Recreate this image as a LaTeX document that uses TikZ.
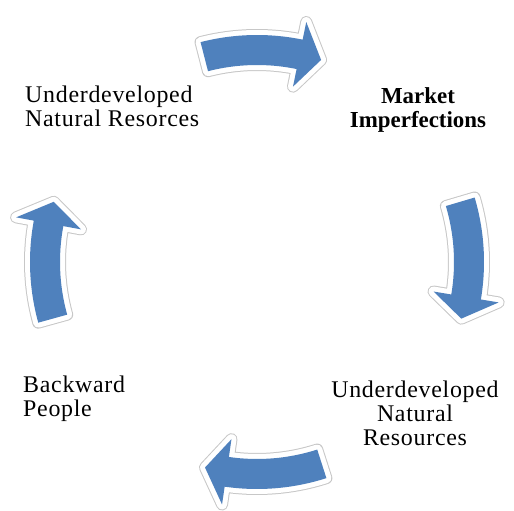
\documentclass[tikz,border=0pt]{standalone}
\usepackage{fontspec}
\setmainfont{Liberation Serif}

\definecolor{cycleblue}{HTML}{4F81BD}

\tikzset{
  cyclearrow/.style={
    preaction={draw=black!22, line width=12bp, line join=round},
    preaction={draw=white, line width=10bp, line join=round},
    fill=cycleblue},
  cycletext/.style={font=\fontsize{24}{24.5}\selectfont\addfontfeature{LetterSpace=3},
    inner sep=0pt}
}

\begin{document}
\begin{tikzpicture}[x=1bp,y=1bp]

        \useasboundingbox (0,0) rectangle (514,511);

        % curved arrows round the cycle
        \begin{scope}[shift={(257,249)}]
          \foreach \c in {88.4,0.5,-88.2,179.5} {
            \path[cyclearrow] (\c+16:227)
              arc[start angle=\c+16, end angle=\c-10, radius=227bp]
              -- (\c-10:245) -- (\c-16:212) -- (\c-10:179) -- (\c-10:197)
              arc[start angle=\c-10, end angle=\c+16, radius=197bp] -- cycle;
          }
        \end{scope}

        % base anchor sits on the last line
        \begin{scope}[every node/.style={cycletext}]
          \node[anchor=base west, align=left]  (1) at (25,384)  {Underdeveloped\\Natural Resorces};
          \node[anchor=base, align=center, font=\fontsize{23}{25}\selectfont\bfseries]
                                               (2) at (418,383) {Market\\Imperfections};
          \node[anchor=base, align=center]     (3) at (415,65)  {Underdeveloped\\Natural\\Resources};
          \node[anchor=base west, align=left]  (4) at (23,94)   {Backward\\People};
        \end{scope}

      \end{tikzpicture}
\end{document}
